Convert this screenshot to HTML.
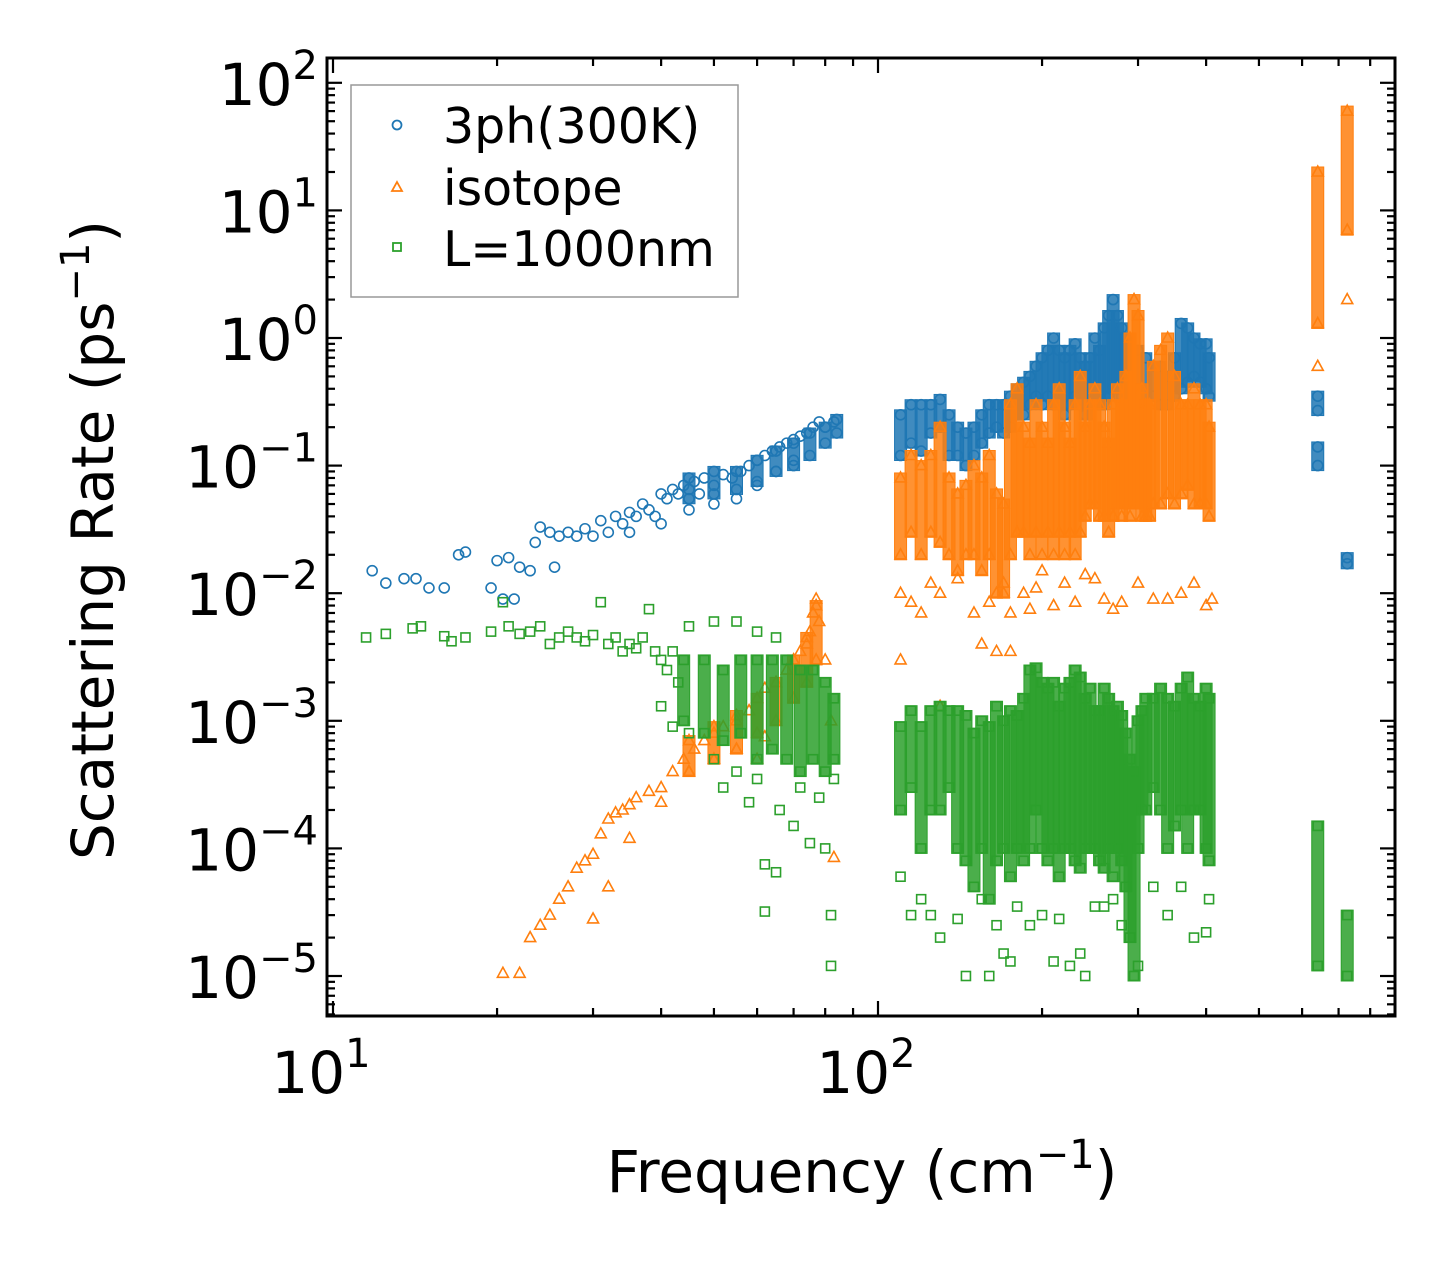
<!DOCTYPE html>
<html><head><meta charset="utf-8"><style>
html,body{margin:0;padding:0;background:#fff;}
svg{display:block;font-family:"DejaVu Sans","Liberation Sans",sans-serif;}
</style></head><body>
<svg id="chart" width="1455" height="1265" viewBox="0 0 1455 1265" xmlns="http://www.w3.org/2000/svg">
<rect width="1455" height="1265" fill="#fff"/>
<g id="marks"></g>
<g id="axes"></g>
<g id="legend">
<rect x="351" y="85" width="387" height="212" fill="#fff" stroke="#999" stroke-width="1.5"/>
<circle cx="397" cy="125" r="4.5" fill="none" stroke="#1f77b4" stroke-width="1.8"/>
<text x="443" y="143" font-size="49">3ph(300K)</text>
<path d="M397,182 L402,191 L392,191 Z" fill="none" stroke="#ff7f0e" stroke-width="1.8"/>
<text x="443" y="205" font-size="49">isotope</text>
<rect x="393" y="243" width="8" height="8" fill="none" stroke="#2ca02c" stroke-width="1.8"/>
<text x="443" y="266" font-size="49">L=1000nm</text>
</g>
<text x="862" y="1192" font-size="58" text-anchor="middle">Frequency (cm<tspan font-size="40" dy="-24">−1</tspan><tspan dy="24">)</tspan></text>
<text transform="translate(113,540) rotate(-90)" font-size="58" text-anchor="middle">Scattering Rate (ps<tspan font-size="40" dy="-24">−1</tspan><tspan dy="24">)</tspan></text>
</svg>
<script>
// ---- data ----
const bluePtsF=[11.8,12.5,13.5,14.2,15,16,17,17.5,19.5,20,20.5,21,21.5,22,23,23.5,24,25,25.5,26,27,28,29,30,31,32,33,34,35,36,37,38,39,40,41,42,43,44,45,46,47,48,50,52,54,56,58,60,62,64,66,68,70,72,74,76,78,80,83,50,55,60,65,70,45,40,35];
const bluePtsV=[0.015,0.012,0.013,0.013,0.011,0.011,0.02,0.021,0.011,0.018,0.009,0.019,0.009,0.016,0.015,0.025,0.033,0.03,0.016,0.028,0.03,0.028,0.032,0.028,0.037,0.03,0.04,0.035,0.043,0.04,0.05,0.045,0.04,0.06,0.055,0.065,0.06,0.07,0.065,0.075,0.06,0.08,0.07,0.085,0.08,0.09,0.1,0.11,0.12,0.13,0.14,0.15,0.16,0.17,0.18,0.2,0.22,0.2,0.22,0.05,0.055,0.07,0.09,0.11,0.045,0.035,0.03];
const blueBandF=[45,50,55,60,65,70,75,80,84,110,115,120,125,130,135,140,145,150,155,160,165,170,175,180,185,190,195,200,205,210,215,220,225,230,235,240,245,250,255,260,265,270,275,280,285,290,300,310,320,330,340,350,360,370,380,390,400,405,641,641,726];
const blueBandLo=[0.055,0.06,0.065,0.075,0.09,0.1,0.12,0.15,0.18,0.12,0.15,0.13,0.18,0.2,0.12,0.12,0.1,0.12,0.15,0.18,0.2,0.18,0.2,0.25,0.25,0.3,0.35,0.3,0.35,0.3,0.3,0.25,0.3,0.35,0.3,0.25,0.25,0.3,0.3,0.3,0.35,0.4,0.4,0.35,0.3,0.3,0.35,0.3,0.35,0.3,0.3,0.35,0.4,0.45,0.5,0.45,0.4,0.35,0.1,0.27,0.017];
const blueBandHi=[0.08,0.09,0.09,0.11,0.13,0.15,0.18,0.2,0.23,0.25,0.3,0.3,0.3,0.33,0.25,0.2,0.18,0.2,0.25,0.3,0.3,0.3,0.35,0.4,0.45,0.5,0.6,0.7,0.8,1.0,0.8,0.7,0.8,0.9,0.7,0.6,0.7,1.0,0.8,1.2,1.5,2.0,1.5,1.2,1.0,0.9,0.8,0.7,0.6,0.6,0.5,0.7,1.3,1.2,1.0,0.9,0.9,0.7,0.14,0.35,0.019];

const orPtsF=[20.5,22,23,24,25,26,27,28,29,30,31,32,33,34,35,36,38,40,42,44,46,48,50,52,55,58,60,62,65,68,70,72,74,75,76,77,78,80,82,83,30,32,35,40,45,50,55,60,62,110,110,115,120,125,130,140,150,155,160,165,170,175,185,190,195,200,210,220,230,240,250,260,270,280,300,320,340,360,380,400,410,130,175,641,726];
const orPtsV=[1.05e-5,1.05e-5,2e-5,2.5e-5,3e-5,4e-5,5e-5,7e-5,8e-5,9e-5,1.3e-4,1.7e-4,1.9e-4,2e-4,2.2e-4,2.5e-4,2.8e-4,3e-4,4e-4,5e-4,6e-4,7e-4,8e-4,9e-4,1e-3,1.2e-3,1.5e-3,1.8e-3,2e-3,2.5e-3,3e-3,3.5e-3,4e-3,5e-3,7e-3,9e-3,6e-3,3e-3,1e-3,8.5e-5,2.8e-5,5e-5,1.2e-4,2.3e-4,4e-4,5e-4,6e-4,5e-4,7.5e-4,0.003,0.01,0.0085,0.007,0.012,0.01,0.013,0.007,0.004,0.0085,0.0035,0.012,0.007,0.01,0.0075,0.011,0.015,0.008,0.012,0.0085,0.014,0.013,0.009,0.0075,0.0085,0.012,0.009,0.009,0.01,0.012,0.008,0.009,0.0013,0.0035,0.6,2];
const orBandF=[45,50,55,60,65,70,74,77,110,115,120,125,130,135,140,145,150,155,160,165,170,175,180,185,190,195,200,205,210,215,220,225,230,235,240,245,250,255,260,265,270,275,280,285,290,295,300,305,310,315,320,330,340,350,360,370,380,390,400,405,641,726];
const orBandLo=[4e-4,5e-4,6e-4,8e-4,1e-3,1.5e-3,2e-3,3e-3,0.02,0.03,0.02,0.03,0.025,0.02,0.015,0.02,0.02,0.015,0.02,0.01,0.01,0.02,0.03,0.03,0.02,0.03,0.02,0.03,0.02,0.03,0.02,0.03,0.02,0.03,0.04,0.05,0.05,0.04,0.04,0.03,0.04,0.05,0.04,0.05,0.04,0.05,0.05,0.04,0.04,0.04,0.05,0.05,0.06,0.05,0.06,0.07,0.05,0.05,0.05,0.04,1.3,7];
const orBandHi=[7e-4,9e-4,1.1e-3,1.5e-3,2e-3,3e-3,4.5e-3,8e-3,0.08,0.12,0.1,0.12,0.2,0.08,0.06,0.07,0.1,0.08,0.12,0.06,0.05,0.3,0.4,0.2,0.15,0.3,0.2,0.15,0.3,0.4,0.2,0.15,0.3,0.5,0.2,0.3,0.4,0.3,0.2,0.15,0.3,0.4,0.3,0.5,1.0,2.0,1.5,0.4,0.3,0.3,0.6,0.8,1.0,0.5,0.3,0.3,0.4,0.3,0.3,0.2,20,60];

const grPtsF=[11.5,12.5,14,14.5,16,16.5,17.5,19.5,20.5,21,22,23,24,25,26,27,28,29,30,31,32,33,34,35,36,37,38,39,40,41,42,43,45,55,60,65,50,40,42,45,50,52,55,58,60,62,62,65,66,70,72,75,78,80,82,82,83,110,115,120,125,130,140,145,155,160,165,170,175,180,190,200,210,215,225,235,240,250,260,270,280,300,320,340,360,380,400,405];
const grPtsV=[0.0045,0.0048,0.0053,0.0055,0.0046,0.0042,0.0045,0.005,0.0085,0.0055,0.0048,0.005,0.0055,0.004,0.0045,0.005,0.0045,0.0042,0.0047,0.0085,0.004,0.0045,0.0035,0.004,0.0037,0.0045,0.0075,0.0035,0.003,0.0025,0.0035,0.002,0.0055,0.006,0.005,0.0045,0.006,0.0013,0.0009,0.0008,0.0005,0.0003,0.0004,0.00023,0.00035,7.5e-5,3.2e-5,6.5e-5,0.0002,0.00015,0.0003,0.00011,0.00025,0.0001,3e-5,1.2e-5,0.00035,6e-5,3e-5,4e-5,3e-5,2e-5,2.8e-5,1e-5,4e-5,1e-5,2.5e-5,1.5e-5,1.3e-5,3.5e-5,2.5e-5,3e-5,1.3e-5,2.8e-5,1.2e-5,1.5e-5,1e-5,3.5e-5,3.5e-5,4e-5,2.5e-5,1.2e-5,5e-5,3e-5,5e-5,2e-5,2.2e-5,4e-5];
const grBandF=[44,48,52,56,60,64,68,72,76,80,83,110,115,120,125,130,135,140,145,150,155,160,165,170,175,180,185,190,195,200,205,210,215,220,225,230,235,240,245,250,255,260,265,270,275,280,285,290,295,300,305,310,320,330,340,350,360,370,380,390,400,405,641,726];
const grBandLo=[0.001,0.0008,0.0007,0.0008,0.0005,0.0006,0.0005,0.0004,0.0005,0.0004,0.0005,0.0002,0.0003,0.0001,0.0002,0.0002,0.0003,0.0001,0.00008,0.00005,0.0001,0.00004,0.00008,0.0001,0.00006,0.0001,0.00008,0.0001,0.0002,0.0001,0.00008,0.0001,0.00006,0.0001,0.0001,0.00008,0.00007,0.0001,0.0001,0.0001,0.00008,0.00007,0.0001,0.00006,0.0001,0.00008,0.00005,0.00002,0.00001,0.0001,0.0002,0.0002,0.0003,0.0002,0.0001,0.00015,0.0002,0.0001,0.0002,0.0002,0.0001,0.00008,1.2e-5,1e-5];
const grBandHi=[0.003,0.003,0.0025,0.003,0.003,0.003,0.003,0.0025,0.0025,0.002,0.0015,0.0009,0.0012,0.0009,0.0012,0.0013,0.0012,0.0012,0.0011,0.0008,0.001,0.0009,0.0013,0.001,0.0012,0.0011,0.0015,0.0025,0.0026,0.002,0.0018,0.002,0.0013,0.0018,0.002,0.0025,0.0022,0.0015,0.0018,0.0012,0.0012,0.0018,0.0015,0.0012,0.0013,0.0011,0.0008,0.0005,0.0004,0.001,0.0012,0.0015,0.0015,0.0018,0.0015,0.0013,0.0018,0.0022,0.0015,0.0013,0.0018,0.0015,1.5e-4,3e-5];

const xTickVals=[10,100];
const xTickLabels=["1","2"];
const yTickVals=[1e-5,1e-4,1e-3,1e-2,1e-1,1,10,100];
const yTickLabels=["−5","−4","−3","−2","−1","0","1","2"];

// ---- axes ----
const L=327,R=1395,T=58,B=1016;
const X0=333,XD=545,Y0=338,YD=127.6;
function xs(f){return X0+XD*Math.log10(f/10);}
function ys(v){return Y0-YD*Math.log10(v);}
const NS="http://www.w3.org/2000/svg";
function mk(tag,attrs,parent){const e=document.createElementNS(NS,tag);for(const k in attrs)e.setAttribute(k,attrs[k]);parent.appendChild(e);return e;}
const marks=document.getElementById('marks');
const axes=document.getElementById('axes');

function marker(kind,x,y,color,g){
  let e;
  if(kind==='c'){e=mk('circle',{cx:x,cy:y,r:5,fill:'none',stroke:color,'stroke-width':1.6},g);}
  else if(kind==='t'){e=mk('path',{d:`M${x},${y-6} L${x+5.5},${y+4} L${x-5.5},${y+4} Z`,fill:'none',stroke:color,'stroke-width':1.6},g);}
  else {e=mk('rect',{x:x-4.5,y:y-4.5,width:9,height:9,fill:'none',stroke:color,'stroke-width':1.6},g);}
  return e;
}
function series(name,kind,color,pF,pV,bF,bLo,bHi){
  const g=mk('g',{},marks);
  
  
  for(let i=0;i<bF.length;i++){
    const x=xs(bF[i]),y1=ys(bHi[i]),y2=ys(bLo[i]);
    const r=mk('rect',{x:x-6,y:y1-5,width:12,height:(y2-y1)+10,fill:color,'fill-opacity':0.85,stroke:color,'stroke-width':1},g);
    
    
    const a=marker(kind,x,y1,color,g);
    
    
    const b=marker(kind,x,y2,color,g);
    
    
  }
  for(let i=0;i<pF.length;i++){
    const m=marker(kind,xs(pF[i]),ys(pV[i]),color,g);
    
    
  }
}
series('3ph','c','#1f77b4',bluePtsF,bluePtsV,blueBandF,blueBandLo,blueBandHi);
series('isotope','t','#ff7f0e',orPtsF,orPtsV,orBandF,orBandLo,orBandHi);
series('boundary','s','#2ca02c',grPtsF,grPtsV,grBandF,grBandLo,grBandHi);

// ticks
function line(x1,y1,x2,y2,w,name){const l=mk('line',{x1,y1,x2,y2,stroke:'#000','stroke-width':w},axes);}
for(let d=10;d<=100;d*=10){for(let k=1;k<10;k++){const f=d*k;const x=xs(f);if(x<L||x>R)continue;const len=k===1?15:8;
  line(x,B,x,B-len,2.2,'x-tick');line(x,T,x,T+len,2.2,'x-tick-top');}}
for(let e=-6;e<=2;e++){for(let k=1;k<10;k++){const v=k*Math.pow(10,e);const y=ys(v);if(y<T||y>B)continue;const len=k===1?15:8;
  line(L,y,L+len,y,2.2,'y-tick');line(R,y,R-len,y,2.2,'y-tick-right');}}
const frame=mk('rect',{x:L,y:T,width:R-L,height:B-T,fill:'none',stroke:'#000','stroke-width':3},axes);


for(let i=0;i<xTickVals.length;i++){
  const t=mk('text',{x:xs(xTickVals[i])-12,y:1093,'font-size':58,'text-anchor':'middle'},axes);
  
  
  t.textContent='10';
  const s=mk('tspan',{'font-size':40,dy:-26},t);s.textContent=xTickLabels[i];
}
for(let i=0;i<yTickVals.length;i++){
  const t=mk('text',{x:L-9,y:ys(yTickVals[i])+22,'font-size':58,'text-anchor':'end'},axes);
  
  
  t.textContent='10';
  const s=mk('tspan',{'font-size':40,dy:-26},t);s.textContent=yTickLabels[i];
}
</script>
</body></html>
